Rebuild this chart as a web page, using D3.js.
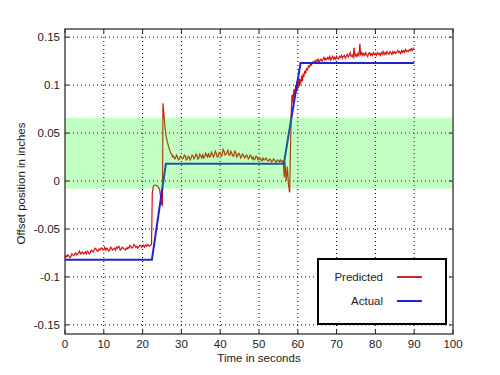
<!DOCTYPE html>
<html>
<head>
<meta charset="utf-8">
<script src="https://cdn.jsdelivr.net/npm/d3@7"></script>
<style>
  body { margin: 0; background: #fff; }
  text { font-family: "Liberation Sans", Arial, sans-serif; }
</style>
</head>
<body>
<div id="chart"></div>
<script>
// Tick values and labels
const xTicks = [0, 10, 20, 30, 40, 50, 60, 70, 80, 90, 100];
const yTicks = [-0.15, -0.1, -0.05, 0, 0.05, 0.1, 0.15];
const yTickLabels = ["-0.15", "-0.1", "-0.05", "0", "0.05", "0.1", "0.15"];

// Tolerance band (green)
const bandLow = -0.008;
const bandHigh = 0.066;

// Actual position: [time, offset]
const actual = [
  [0, -0.082], [22.4, -0.082], [26.0, 0.018], [56.4, 0.018], [60.7, 0.123], [90, 0.123]
];

// Predicted position: [time, offset]
const predicted = [
  [0, -0.080], [0.25, -0.078], [0.5, -0.079], [0.75, -0.077], [1, -0.078], [1.25, -0.080],
  [1.5, -0.079], [1.75, -0.076], [2, -0.077], [2.25, -0.078], [2.5, -0.076], [2.75, -0.075],
  [3, -0.077], [3.25, -0.076], [3.5, -0.075], [3.75, -0.073], [4, -0.076], [4.25, -0.075],
  [4.5, -0.074], [4.75, -0.076], [5, -0.075], [5.25, -0.074], [5.5, -0.076], [5.75, -0.073],
  [6, -0.074], [6.25, -0.076], [6.5, -0.075], [6.75, -0.072], [7, -0.073], [7.25, -0.074],
  [7.5, -0.072], [7.75, -0.070], [8, -0.071], [8.25, -0.073], [8.5, -0.073], [8.75, -0.071],
  [9, -0.072], [9.25, -0.070], [9.5, -0.070], [9.75, -0.072], [10, -0.071], [10.25, -0.069],
  [10.5, -0.072], [10.75, -0.070], [11, -0.071], [11.25, -0.073], [11.5, -0.072], [11.75, -0.069],
  [12, -0.070], [12.25, -0.072], [12.5, -0.071], [12.75, -0.070], [13, -0.072], [13.25, -0.069],
  [13.5, -0.070], [13.75, -0.068], [14, -0.069], [14.25, -0.072], [14.5, -0.071], [14.75, -0.069],
  [15, -0.070], [15.25, -0.071], [15.5, -0.072], [15.75, -0.070], [16, -0.071], [16.25, -0.069],
  [16.5, -0.070], [16.75, -0.067], [17, -0.068], [17.25, -0.070], [17.5, -0.069], [17.75, -0.066],
  [18, -0.067], [18.25, -0.069], [18.5, -0.068], [18.75, -0.070], [19, -0.069], [19.25, -0.067],
  [19.5, -0.067], [19.75, -0.069], [20, -0.068], [20.25, -0.067], [20.5, -0.069], [20.75, -0.067],
  [21, -0.068], [21.25, -0.066], [21.5, -0.067], [21.75, -0.068], [22, -0.067], [22.3, -0.066],
  [22.5, -0.012], [22.8, -0.005], [23.2, -0.004], [23.6, -0.005], [24.0, -0.006], [24.4, -0.009],
  [24.8, -0.022], [25.1, -0.026], [25.25, 0.081], [25.5, 0.068], [25.8, 0.055], [26.1, 0.046],
  [26.5, 0.039], [26.75, 0.035], [27, 0.032], [27.25, 0.029], [27.5, 0.028], [27.75, 0.025],
  [28, 0.026], [28.25, 0.023], [28.5, 0.024], [28.75, 0.027], [29, 0.025], [29.25, 0.022],
  [29.5, 0.023], [29.75, 0.026], [30, 0.025], [30.25, 0.023], [30.5, 0.024], [30.75, 0.027],
  [31, 0.026], [31.25, 0.022], [31.5, 0.023], [31.75, 0.026], [32, 0.025], [32.25, 0.022],
  [32.5, 0.024], [32.75, 0.027], [33, 0.026], [33.25, 0.023], [33.5, 0.025], [33.75, 0.028],
  [34, 0.027], [34.25, 0.023], [34.5, 0.024], [34.75, 0.028], [35, 0.026], [35.25, 0.024],
  [35.5, 0.028], [35.75, 0.024], [36, 0.025], [36.25, 0.029], [36.5, 0.027], [36.75, 0.025],
  [37, 0.029], [37.25, 0.025], [37.5, 0.026], [37.75, 0.030], [38, 0.028], [38.25, 0.025],
  [38.5, 0.027], [38.75, 0.031], [39, 0.029], [39.25, 0.025], [39.5, 0.026], [39.75, 0.030],
  [40, 0.030], [40.25, 0.026], [40.5, 0.027], [40.75, 0.033], [41, 0.031], [41.25, 0.027],
  [41.5, 0.028], [41.75, 0.030], [42, 0.032], [42.25, 0.027], [42.5, 0.027], [42.75, 0.031],
  [43, 0.029], [43.25, 0.026], [43.5, 0.026], [43.75, 0.031], [44, 0.030], [44.25, 0.025],
  [44.5, 0.027], [44.75, 0.029], [45, 0.028], [45.25, 0.024], [45.5, 0.025], [45.75, 0.028],
  [46, 0.027], [46.25, 0.024], [46.5, 0.025], [46.75, 0.027], [47, 0.026], [47.25, 0.023],
  [47.5, 0.024], [47.75, 0.027], [48, 0.026], [48.25, 0.023], [48.5, 0.025], [48.75, 0.022],
  [49, 0.023], [49.25, 0.026], [49.5, 0.025], [49.75, 0.022], [50, 0.023], [50.25, 0.024],
  [50.5, 0.022], [50.75, 0.021], [51, 0.024], [51.25, 0.022], [51.5, 0.022], [51.75, 0.024],
  [52, 0.023], [52.25, 0.021], [52.5, 0.021], [52.75, 0.023], [53, 0.022], [53.25, 0.020],
  [53.5, 0.021], [53.75, 0.023], [54, 0.022], [54.25, 0.020], [54.5, 0.020], [54.75, 0.022],
  [55, 0.021], [55.25, 0.020], [55.5, 0.022], [55.75, 0.020], [56, 0.021], [56.3, 0.018],
  [56.5, 0.004], [56.7, 0.020], [57, 0.000], [57.3, 0.015], [57.6, -0.004], [57.9, -0.012],
  [58.1, 0.030], [58.3, 0.070], [58.5, 0.090], [58.7, 0.082], [58.8, 0.088], [59, 0.096],
  [59.15, 0.086], [59.3, 0.092], [59.45, 0.100], [59.6, 0.092], [59.75, 0.104], [59.9, 0.094],
  [60.05, 0.103], [60.2, 0.097], [60.35, 0.107], [60.5, 0.099], [60.65, 0.106], [60.8, 0.102],
  [61, 0.110], [61.2, 0.104], [61.4, 0.112], [61.6, 0.110], [61.8, 0.115], [62, 0.112],
  [62.25, 0.117], [62.5, 0.116], [62.75, 0.120], [63, 0.119], [63.25, 0.122], [63.5, 0.121],
  [63.75, 0.124], [64, 0.123], [64.25, 0.125], [64.5, 0.123], [64.75, 0.126], [65, 0.125],
  [65.25, 0.127], [65.5, 0.124], [65.75, 0.126], [66, 0.127], [66.25, 0.125], [66.5, 0.127],
  [66.75, 0.129], [67, 0.126], [67.25, 0.128], [67.5, 0.127], [67.75, 0.129], [68, 0.127],
  [68.25, 0.130], [68.5, 0.126], [68.75, 0.128], [69, 0.130], [69.25, 0.127], [69.5, 0.129],
  [69.75, 0.127], [70, 0.130], [70.25, 0.128], [70.5, 0.127], [70.75, 0.130], [71, 0.129],
  [71.25, 0.131], [71.5, 0.128], [71.75, 0.130], [72, 0.131], [72.25, 0.128], [72.5, 0.130],
  [72.75, 0.132], [73, 0.129], [73.25, 0.131], [73.5, 0.134], [73.75, 0.130], [74, 0.131],
  [74.25, 0.129], [74.5, 0.139], [74.75, 0.130], [75, 0.132], [75.25, 0.130], [75.5, 0.133],
  [75.75, 0.131], [76, 0.143], [76.2, 0.131], [76.5, 0.134], [76.75, 0.131], [77, 0.133],
  [77.25, 0.131], [77.5, 0.134], [77.75, 0.132], [78, 0.130], [78.25, 0.133], [78.5, 0.134],
  [78.75, 0.131], [79, 0.133], [79.25, 0.131], [79.5, 0.134], [79.75, 0.132], [80, 0.133],
  [80.25, 0.131], [80.5, 0.134], [80.75, 0.132], [81, 0.133], [81.25, 0.131], [81.5, 0.134],
  [81.75, 0.132], [82, 0.135], [82.25, 0.132], [82.5, 0.134], [82.75, 0.132], [83, 0.135],
  [83.25, 0.133], [83.5, 0.132], [83.75, 0.135], [84, 0.134], [84.25, 0.132], [84.5, 0.135],
  [84.75, 0.133], [85, 0.135], [85.25, 0.133], [85.5, 0.134], [85.75, 0.136], [86, 0.134],
  [86.25, 0.135], [86.5, 0.133], [86.75, 0.136], [87, 0.134], [87.25, 0.136], [87.5, 0.134],
  [87.75, 0.137], [88, 0.135], [88.25, 0.136], [88.5, 0.135], [88.75, 0.137], [89, 0.136],
  [89.25, 0.138], [89.5, 0.136], [89.75, 0.138], [90, 0.139]
];

const width = 500, height = 375;
const margin = {top: 29, right: 47, bottom: 41, left: 65};
const w = width - margin.left - margin.right;
const h = height - margin.top - margin.bottom;

const svg = d3.select('#chart').append('svg')
    .attr('width', width)
    .attr('height', height);

const g = svg.append('g')
    .attr('transform', `translate(${margin.left},${margin.top})`);

const x = d3.scaleLinear().domain([0, 100]).range([0, w]);
const y = d3.scaleLinear().domain([-0.1595, 0.1585]).range([h, 0]);

// Grid (dotted)
g.selectAll('.vgrid')
    .data(xTicks.slice(1, -1))
    .join('line')
    .attr('x1', d => x(d)).attr('x2', d => x(d))
    .attr('y1', 0).attr('y2', h)
    .attr('stroke', '#000')
    .attr('stroke-width', 1)
    .attr('stroke-dasharray', '1,3');

g.selectAll('.hgrid')
    .data(yTicks)
    .join('line')
    .attr('x1', 0).attr('x2', w)
    .attr('y1', d => y(d)).attr('y2', d => y(d))
    .attr('stroke', '#000')
    .attr('stroke-width', 1)
    .attr('stroke-dasharray', '1,3');

// Lines
const line = d3.line()
    .x(d => x(d[0]))
    .y(d => y(d[1]));

g.append('path')
    .datum(predicted)
    .attr('d', line)
    .attr('fill', 'none')
    .attr('stroke', '#d81010')
    .attr('stroke-width', 1.2);

g.append('path')
    .datum(actual)
    .attr('d', line)
    .attr('fill', 'none')
    .attr('stroke', '#2424c8')
    .attr('stroke-width', 2);

// Green band drawn over the lines, semi transparent
g.append('rect')
    .attr('x', 0)
    .attr('width', w)
    .attr('y', y(bandHigh))
    .attr('height', y(bandLow) - y(bandHigh))
    .attr('fill', '#00ff00')
    .attr('fill-opacity', 0.24);

// Axis box
g.append('rect')
    .attr('width', w)
    .attr('height', h)
    .attr('fill', 'none')
    .attr('stroke', '#222')
    .attr('stroke-width', 1.2);

// Inward ticks on all sides
const tl = 4;
xTicks.forEach(t => {
    g.append('line').attr('x1', x(t)).attr('x2', x(t)).attr('y1', h).attr('y2', h - tl).attr('stroke', '#222');
    g.append('line').attr('x1', x(t)).attr('x2', x(t)).attr('y1', 0).attr('y2', tl).attr('stroke', '#222');
});
yTicks.forEach(t => {
    g.append('line').attr('x1', 0).attr('x2', tl).attr('y1', y(t)).attr('y2', y(t)).attr('stroke', '#222');
    g.append('line').attr('x1', w).attr('x2', w - tl).attr('y1', y(t)).attr('y2', y(t)).attr('stroke', '#222');
});

// Tick labels
g.selectAll('.xlab')
    .data(xTicks)
    .join('text')
    .attr('x', d => x(d))
    .attr('y', h + 14)
    .attr('text-anchor', 'middle')
    .attr('font-size', '11.5px')
    .attr('fill', '#222')
    .text(d => d);

g.selectAll('.ylab')
    .data(yTicks)
    .join('text')
    .attr('x', -5)
    .attr('y', d => y(d) + 4)
    .attr('text-anchor', 'end')
    .attr('font-size', '11.5px')
    .attr('fill', '#222')
    .text((d, i) => yTickLabels[i]);

// Axis titles
svg.append('text')
    .attr('x', margin.left + w / 2)
    .attr('y', 362)
    .attr('text-anchor', 'middle')
    .attr('font-size', '11.5px')
    .attr('fill', '#222')
    .text('Time in seconds');

svg.append('text')
    .attr('transform', `translate(25,${margin.top + h / 2 + 2}) rotate(-90)`)
    .attr('text-anchor', 'middle')
    .attr('font-size', '11.5px')
    .attr('fill', '#222')
    .text('Offset position in inches');

// Legend
const legend = svg.append('g').attr('transform', 'translate(318,259)');
legend.append('rect')
    .attr('width', 128)
    .attr('height', 65)
    .attr('fill', '#fff')
    .attr('stroke', '#000')
    .attr('stroke-width', 2);

const legendItems = [
    {label: 'Predicted', color: '#c42a2a'},
    {label: 'Actual', color: '#2424c8'}
];
legendItems.forEach((d, i) => {
    const ly = 18 + i * 24;
    legend.append('text')
        .attr('x', 65)
        .attr('y', ly + 4)
        .attr('text-anchor', 'end')
        .attr('font-size', '11.5px')
        .attr('fill', '#222')
        .text(d.label);
    legend.append('line')
        .attr('x1', 79).attr('x2', 104)
        .attr('y1', ly).attr('y2', ly)
        .attr('stroke', d.color)
        .attr('stroke-width', 2);
});
</script>
</body>
</html>
